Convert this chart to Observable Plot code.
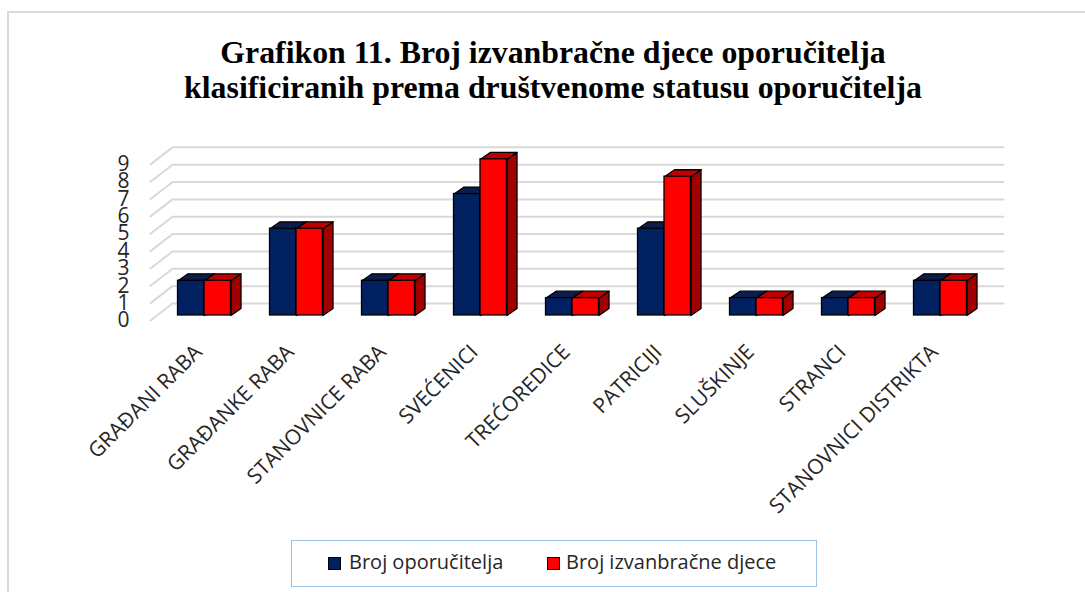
<!DOCTYPE html>
<html>
<head>
<meta charset="utf-8">
<script src="https://cdn.jsdelivr.net/npm/d3@7"></script>
<script src="https://cdn.jsdelivr.net/npm/@observablehq/plot@0.6"></script>
<style>
  html, body { margin: 0; padding: 0; background: #fff; overflow: hidden; width: 1085px; height: 592px; }
  #frame { position: absolute; left: 7px; top: 11px; width: 1100px; height: 620px; border: 2px solid #d9d9d9; box-sizing: border-box; }
  #title { position: absolute; left: 0; top: 35px; width: 1106px; text-align: center;
    font-family: "Liberation Serif", "Times New Roman", serif; font-weight: bold; font-size: 31.8px; line-height: 35px; color: #000; }
  #chart { position: absolute; left: 0; top: 130px; }
  #legend { position: absolute; left: 291px; top: 540px; width: 526px; height: 47px; box-sizing: border-box;
    border: 1.5px solid #9dc3e6; font-family: "Open Sans", sans-serif; font-size: 20px; color: #262626; }
  .sw { position: absolute; top: 16px; width: 13px; height: 13px; box-sizing: border-box; border: 1px solid #000; }
  .lt { position: absolute; top: 7px; line-height: 27px; white-space: nowrap; }
</style>
</head>
<body>
<div id="frame"></div>
<div id="title">Grafikon 11. Broj izvanbračne djece oporučitelja<br>klasificiranih prema društvenome statusu oporučitelja</div>
<div id="chart"></div>
<div id="legend"></div>
<script>
// ---- data ----
const categories = ["GRAĐANI RABA", "GRAĐANKE RABA", "STANOVNICE RABA", "SVEĆENICI", "TREĆOREDICE", "PATRICIJI", "SLUŠKINJE", "STRANCI", "STANOVNICI DISTRIKTA"];
const brojOporucitelja = [2, 5, 2, 7, 1, 5, 1, 1, 2];
const brojIzvanbracneDjece = [2, 5, 2, 9, 1, 8, 1, 1, 2];
const seriesNames = ["Broj oporučitelja", "Broj izvanbračne djece"];
const yTicks = [0, 1, 2, 3, 4, 5, 6, 7, 8, 9];

// ---- styling / pseudo-3D geometry (in scale units) ----
const frontColors = ["#002060", "#ff0000"];
const topColors = ["#0c1d4c", "#c00000"];
const sideColors = ["#00133d", "#a00000"];
const barW = 0.288, base = 0.29, ddx = 0.109, ddy = 0.40;
const gridFrontX = -0.587, gridBackX = -0.348, gridEndX = 8.685, gridDy = 0.98;

const seriesValues = [brojOporucitelja, brojIzvanbracneDjece];
const bars = seriesValues.map((vals, s) => vals.map((v, i) => {
  const x1 = s === 0 ? i - barW : i;
  return {s, i, v, x1, x2: x1 + barW, y1: base, y2: base + v, id: s + "-" + i};
}));
const topPts = bars.map(arr => arr.flatMap(b => [
  {id: b.id, x: b.x1, y: b.y2},
  {id: b.id, x: b.x1 + ddx, y: b.y2 + ddy},
  {id: b.id, x: b.x2 + ddx, y: b.y2 + ddy},
  {id: b.id, x: b.x2, y: b.y2}
]));
const sidePts = bars.map(arr => arr.flatMap(b => [
  {id: b.id, x: b.x2, y: b.y1},
  {id: b.id, x: b.x2, y: b.y2},
  {id: b.id, x: b.x2 + ddx, y: b.y2 + ddy},
  {id: b.id, x: b.x2 + ddx, y: b.y1 + ddy}
]));
const gridPts = yTicks.flatMap(v => [
  {v, x: gridFrontX, y: v},
  {v, x: gridBackX, y: v + gridDy},
  {v, x: gridEndX, y: v + gridDy}
]);

const barMarks = [0, 1].flatMap(s => [
  Plot.line(sidePts[s], {x: "x", y: "y", z: "id", curve: "linear-closed", fill: sideColors[s], stroke: "#000", strokeWidth: 1.3}),
  Plot.line(topPts[s], {x: "x", y: "y", z: "id", curve: "linear-closed", fill: topColors[s], stroke: "#000", strokeWidth: 1.3}),
  Plot.rect(bars[s], {x1: "x1", x2: "x2", y1: "y1", y2: "y2", fill: frontColors[s], stroke: "#000", strokeWidth: 1.3})
]);

const chart = Plot.plot({
  width: 1085,
  height: 400,
  marginLeft: 132, marginRight: 0, marginTop: 0, marginBottom: 0,
  style: {fontFamily: "'Open Sans', sans-serif", fontSize: "21px", background: "transparent", color: "#262626"},
  x: {domain: [-1, 9], range: [112, 1032], axis: null},
  y: {domain: [0, 9], range: [190, 33.85], ticks: yTicks, tickSize: 0, tickPadding: 3, label: null},
  marks: [
    Plot.line(gridPts, {x: "x", y: "y", z: "v", stroke: "#d9d9d9", strokeWidth: 2}),
    ...barMarks,
    Plot.text(categories, {x: (d, i) => i, y: 0, text: d => d, rotate: -45, textAnchor: "end", dx: -6, dy: 28, fontSize: 21, fill: "#262626"})
  ]
});
document.getElementById("chart").appendChild(chart);

// legend
const legend = document.getElementById("legend");
const legendPos = [[36, 57], [255, 274]];
seriesNames.forEach((name, s) => {
  const sw = document.createElement("div");
  sw.className = "sw";
  sw.style.left = legendPos[s][0] + "px";
  sw.style.background = frontColors[s];
  legend.appendChild(sw);
  const t = document.createElement("div");
  t.className = "lt";
  t.style.left = legendPos[s][1] + "px";
  t.textContent = name;
  legend.appendChild(t);
});
</script>
</body>
</html>
